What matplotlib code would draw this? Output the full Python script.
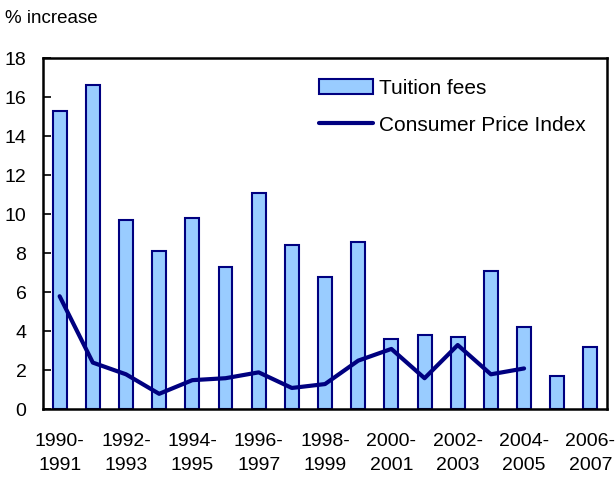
import numpy as np
import matplotlib.pyplot as plt

plt.rcParams['font.family'] = ['Liberation Sans', 'DejaVu Sans']

years = ['1990-\n1991', '1991-\n1992', '1992-\n1993', '1993-\n1994', '1994-\n1995',
         '1995-\n1996', '1996-\n1997', '1997-\n1998', '1998-\n1999', '1999-\n2000',
         '2000-\n2001', '2001-\n2002', '2002-\n2003', '2003-\n2004', '2004-\n2005',
         '2005-\n2006', '2006-\n2007']
tuition = [15.3, 16.6, 9.7, 8.1, 9.8, 7.3, 11.1, 8.4, 6.8, 8.6,
           3.6, 3.8, 3.7, 7.1, 4.2, 1.7, 3.2]
cpi = [5.8, 2.4, 1.8, 0.8, 1.5, 1.6, 1.9, 1.1, 1.3, 2.5,
       3.1, 1.6, 3.3, 1.8, 2.1]

navy = '#000080'
x = np.arange(len(years))

fig = plt.figure(figsize=(6.15, 4.8), dpi=100)
ax = fig.add_axes([0.070, 0.147, 0.917, 0.732])

bars = ax.bar(x, tuition, width=0.42, color='#99CCFF', edgecolor=navy, linewidth=1.5,
              label='Tuition fees', zorder=2)
line, = ax.plot(x[:len(cpi)], cpi, color=navy, linewidth=3, label='Consumer Price Index',
                solid_capstyle='round', zorder=3)

ax.set_xlim(-0.5, len(years) - 0.5)
ax.set_ylim(0, 18)
ax.set_yticks(np.arange(0, 19, 2))
ax.set_xticks(x[::2])
ax.set_xticklabels(years[::2], fontsize=14, linespacing=1.55)
ax.tick_params(axis='x', length=0, pad=17)
ax.tick_params(axis='y', direction='in', length=6, width=1.2, labelsize=14, pad=12)

for side in ['left', 'bottom', 'top', 'right']:
    ax.spines[side].set_linewidth(1.8)

ax.legend(handles=[bars, line], loc='upper right', frameon=False, fontsize=15,
          handlelength=2.55, handletextpad=0.33, borderaxespad=0.6, labelspacing=0.85)

fig.text(0.008, 0.962, '% increase', fontsize=13.5, ha='left', va='center')

fig.savefig('out.png', dpi=100)
